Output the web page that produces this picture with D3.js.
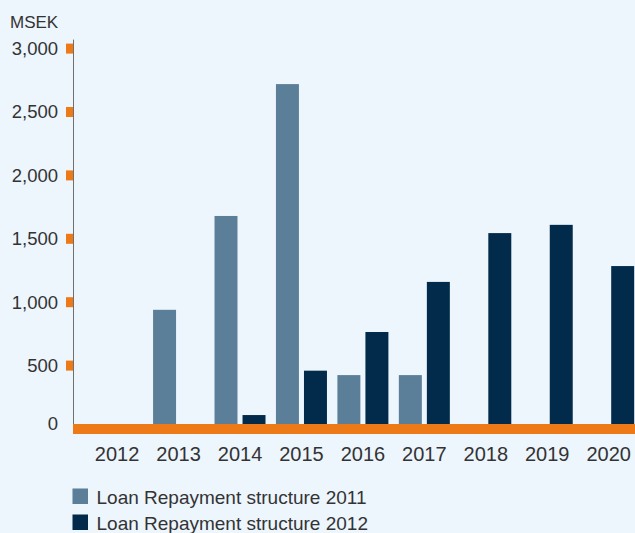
<!DOCTYPE html>
<html>
<head>
<meta charset="utf-8">
<script src="https://cdn.jsdelivr.net/npm/d3@7"></script>
<style>
  body { margin: 0; background: #edf5fd; }
  svg { display: block; }
  text { font-family: "Liberation Sans", Arial, sans-serif; fill: #333333; }
</style>
</head>
<body>
<div id="BarChart"></div>
<script>
// Loan repayment structure, grouped bar chart (MSEK per year)

//////////////////////////////////////////////////////////////////////
// data

var years = ["2012", "2013", "2014", "2015", "2016", "2017", "2018", "2019", "2020"];
var series = ["Loan Repayment structure 2011", "Loan Repayment structure 2012"];
var repay2011 = [0, 940, 1680, 2720, 425, 425, 0, 0, 0];
var repay2012 = [0, 0, 110, 460, 765, 1160, 1545, 1610, 1285];
var yTicks = [0, 500, 1000, 1500, 2000, 2500, 3000];
var unitLabel = "MSEK";

//////////////////////////////////////////////////////////////////////
// namespace for globals

var myNS = {};
myNS.width = 635;
myNS.height = 533;
myNS.axisX = 73;        // where the y axis line sits
myNS.colors = ["#5b7e99", "#022b4b"];
myNS.orange = "#ee7917";

// build rows from the arrays
myNS.dataset = years.map(function (y, i) {
    return { year: y, values: [repay2011[i], repay2012[i]] };
});

var svg = d3.select("#BarChart")
    .append("svg")
    .attr("width", myNS.width)
    .attr("height", myNS.height);

// scales
var x0 = d3.scaleBand()
    .domain(years)
    .range([86.4, 639.4])
    .paddingInner(0.17)
    .paddingOuter(0.085);

var x1 = d3.scaleBand()
    .domain([0, 1])
    .range([0, x0.bandwidth()])
    .paddingInner(0.18);

var yScale = d3.scaleLinear()
    .domain([0, 3000])
    .range([429, 48.6]);

drawBars();
drawAxes();
drawLegend();

// draw grouped bars
function drawBars() {
    var groups = svg.selectAll("g.year")
        .data(myNS.dataset)
        .enter().append("g")
        .attr("class", "year")
        .attr("transform", function (d) { return "translate(" + x0(d.year) + ",0)"; });

    groups.selectAll("rect")
        .data(function (d) { return d.values.map(function (v, i) { return { s: i, v: v }; }); })
        .enter().append("rect")
        .attr("x", function (d) { return x1(d.s); })
        .attr("y", function (d) { return yScale(d.v); })
        .attr("width", x1.bandwidth())
        .attr("height", function (d) { return yScale(0) - yScale(d.v); })
        .attr("fill", function (d) { return myNS.colors[d.s]; });
}

// axes, orange tick marks and baseline
function drawAxes() {
    // y axis: text only, ticks drawn separately
    var yAxis = d3.axisLeft(yScale)
        .tickValues(yTicks)
        .tickSize(0)
        .tickPadding(15)
        .tickFormat(d3.format(","));

    var gy = svg.append("g")
        .attr("class", "y axis")
        .attr("transform", "translate(" + myNS.axisX + ",0)")
        .call(yAxis);
    gy.select(".domain").remove();
    gy.selectAll("text")
        .attr("font-size", "18.5px")
        .attr("font-family", null)
        .attr("fill", "#333333")
        .attr("dy", function (d) { return d === 0 ? "-0.0em" : "0.32em"; });

    // gray vertical line
    svg.append("line")
        .attr("x1", myNS.axisX + 0.5).attr("x2", myNS.axisX + 0.5)
        .attr("y1", yScale(3000) - 9).attr("y2", yScale(0))
        .attr("stroke", "#6f6f6f")
        .attr("stroke-width", 1);

    // orange tick marks
    svg.selectAll("rect.tick")
        .data(yTicks.filter(function (t) { return t > 0; }))
        .enter().append("rect")
        .attr("class", "tick")
        .attr("x", myNS.axisX - 7)
        .attr("y", function (d) { return yScale(d) - 5; })
        .attr("width", 7)
        .attr("height", 10)
        .attr("fill", myNS.orange);

    // orange baseline band
    svg.append("rect")
        .attr("x", myNS.axisX)
        .attr("y", yScale(0) - 5)
        .attr("width", myNS.width - myNS.axisX)
        .attr("height", 10)
        .attr("fill", myNS.orange);

    // x axis labels
    var xAxis = d3.axisBottom(x0).tickSize(0).tickPadding(18);
    var gx = svg.append("g")
        .attr("class", "x axis")
        .attr("transform", "translate(0," + yScale(0) + ")")
        .call(xAxis);
    gx.select(".domain").remove();
    gx.selectAll("text")
        .attr("font-size", "20px")
        .attr("font-family", null)
        .attr("fill", "#333333");

    // unit label
    svg.append("text")
        .attr("x", 10)
        .attr("y", 28)
        .attr("font-size", "17px")
        .text(unitLabel);
}

// legend below chart
function drawLegend() {
    var legend = svg.selectAll("g.legend")
        .data(series)
        .enter().append("g")
        .attr("class", "legend")
        .attr("transform", function (d, i) { return "translate(72.5," + (488.5 + i * 26) + ")"; });

    legend.append("rect")
        .attr("width", 15.5)
        .attr("height", 15.5)
        .attr("fill", function (d, i) { return myNS.colors[i]; });

    legend.append("text")
        .attr("x", 24)
        .attr("y", 15)
        .attr("font-size", "19px")
        .text(function (d) { return d; });
}
</script>
</body>
</html>
